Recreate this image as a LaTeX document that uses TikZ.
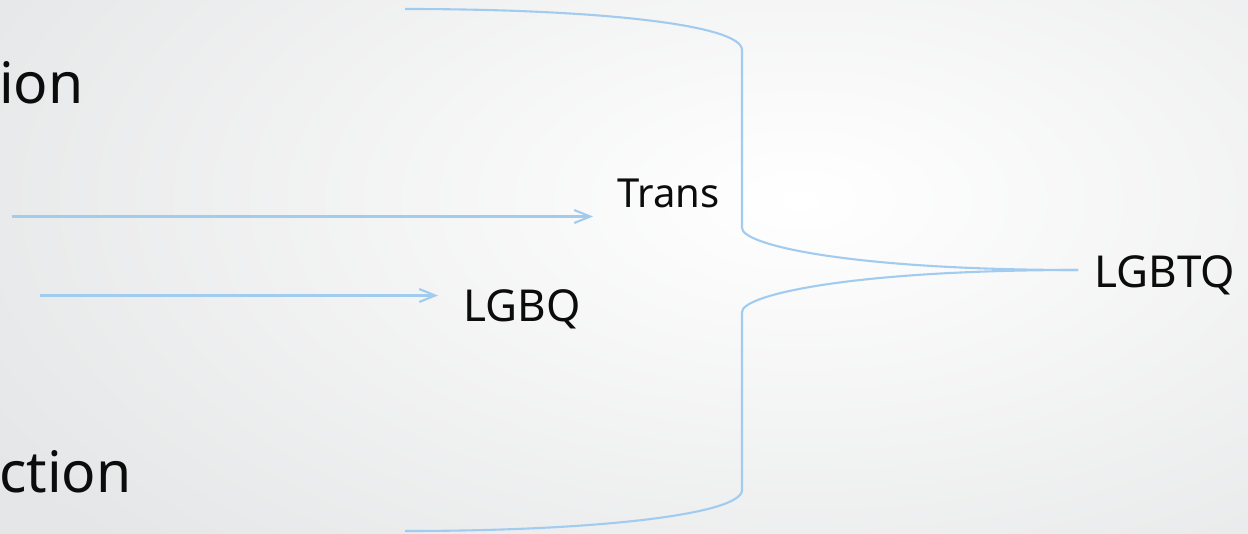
\documentclass[tikz,border=0pt]{standalone}
\usepackage{fontspec}
\setmainfont{Noto Sans}
\usetikzlibrary{arrows.meta}
\definecolor{bracecol}{RGB}{162,203,240}
\definecolor{bgout}{RGB}{229,230,231}
\definecolor{inkcol}{RGB}{12,12,12}
\begin{document}
\begin{tikzpicture}[x=1pt,y=-1pt,
  conn/.style={draw=bracecol, line width=2.1pt},
  arr/.style={conn, -{Straight Barb[length=16pt,width=13pt]}},
  lbl/.style={font=\fontsize{40}{44}\selectfont, text=inkcol, inner ysep=0pt, anchor=base west},
  lblb/.style={lbl, font=\fontsize{44}{48}\selectfont},
  big/.style={font=\fontsize{57}{60}\selectfont, text=inkcol, inner sep=0pt, anchor=base west}]
  \useasboundingbox (0,0) rectangle (1248,533);
  \shade[inner color=white, outer color=bgout] (-150,-300) rectangle (1750,700);
  % left texts (cut off)
  \node[big] (t1) at (-1,103) {ion};
  \node[big] (t2) at (-1,492) {ction};
  % labels
  \node[lbl, inner xsep=24pt] (trans) at (593,207) {Trans};
  \node[lblb, inner xsep=25pt] (lgbq) at (438,321) {LGBQ};
  \node[lblb, inner xsep=16pt] (lgbtq) at (1078,287) {LGBTQ};
  % arrows
  \coordinate (a1) at (12,216.5);
  \coordinate (a2) at (40,295.5);
  \draw[arr] (a1) -- (trans.west |- a1);
  \draw[arr] (a2) -- (lgbq.west |- a2);
  % brace
  \coordinate (top) at (405,9);
  \coordinate (bot) at (405,531);
  \coordinate (tip) at (lgbtq.west |- 0,270);
  \draw[conn] (top) .. controls (600,9) and (742,25) .. (742,50)
     -- (742,228) .. controls (742,245) and (850,270) .. (tip);
  \draw[conn] (bot) .. controls (600,531) and (742,514) .. (742,490)
     -- (742,312) .. controls (742,295) and (850,270) .. (tip);
\end{tikzpicture}
\end{document}
